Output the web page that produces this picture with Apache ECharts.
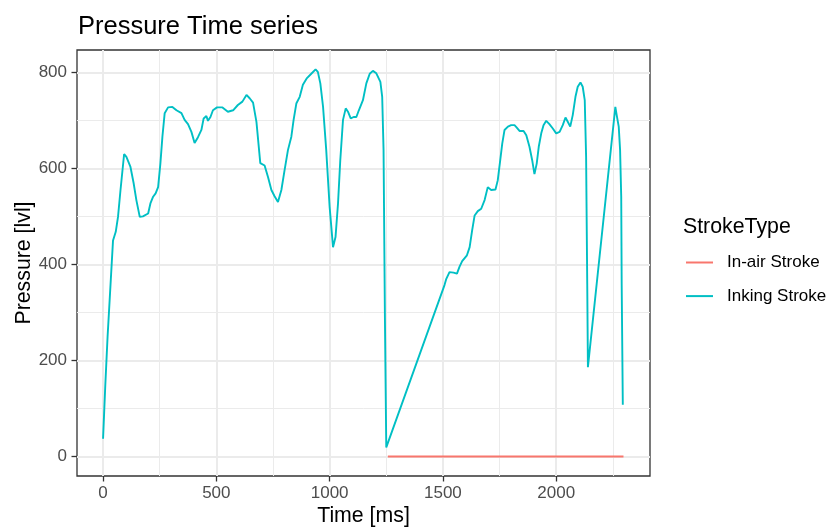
<!DOCTYPE html>
<html>
<head>
<meta charset="utf-8">
<script src="https://cdn.jsdelivr.net/npm/echarts@6/dist/echarts.min.js"></script>
<style>
  html, body { margin: 0; padding: 0; background: #ffffff; }
  #chart { width: 827px; height: 527px; }
</style>
</head>
<body>
<div id="chart"></div>
<script>
// Inking stroke: pen on paper, time [ms] and pressure level
const inkTime = [
  0, 10, 20, 29, 44, 56, 66, 77, 93, 103, 121, 135, 147, 162, 176, 199, 209, 221, 232, 243,
  253, 262, 272, 287, 306, 324, 346, 360, 375, 390, 404, 419, 434, 444, 456, 463, 474, 485,
  503, 527, 551, 574, 595, 615, 633, 647, 662, 677, 694, 713, 728, 743, 757, 772, 787, 801,
  816, 831, 841, 853, 868, 882, 900, 919, 938, 948, 959, 971, 985, 1000, 1015, 1026, 1037,
  1047, 1059, 1071, 1081, 1093, 1106, 1118, 1129, 1147, 1162, 1177, 1191, 1206, 1224, 1232,
  1238, 1244, 1250,
  1507, 1515, 1529, 1547, 1562, 1573, 1585, 1606, 1618, 1629, 1640, 1654, 1669, 1684, 1698,
  1713, 1732, 1742, 1753, 1762, 1772, 1787, 1801, 1816, 1826, 1838, 1856, 1868, 1882, 1894,
  1904, 1914, 1923, 1934, 1944, 1956, 1970, 1985, 2000, 2015, 2029, 2041, 2051, 2062, 2073,
  2085, 2095, 2107, 2117, 2126, 2132, 2137, 2140,
  2261, 2267, 2276, 2282, 2287, 2289, 2294
];
const inkPressure = [
  37, 150, 250, 325, 450, 468, 499, 555, 630, 624, 603, 569, 534, 499, 500, 506, 527, 541, 548, 561,
  610, 666, 715, 727, 728, 721, 715, 701, 692, 676, 653, 665, 680, 704, 709, 699, 707, 721,
  727, 727, 718, 721, 732, 739, 753, 746, 737, 697, 611, 606, 582, 555, 542, 530, 555, 596,
  638, 666, 701, 735, 749, 774, 788, 797, 806, 801, 777, 728, 638, 520, 436, 457, 527,
  617, 701, 725, 718, 704, 707, 707, 721, 742, 777, 797, 803, 798, 780, 749,
  638, 290, 19,
  357, 370, 384, 383, 381, 395, 407, 419, 436, 471, 502, 511, 516, 534, 561,
  555, 556, 575, 617, 652, 680, 687, 690, 690, 685, 678, 678, 669, 645, 617,
  588, 610, 645, 673, 690, 699, 692, 683, 673, 676, 690, 706, 697, 687, 711,
  749, 770, 779, 770, 742, 624, 360, 186,
  728, 711, 687, 638, 541, 360, 108
];

// In-air stroke: pen lifted, pressure stays at zero
const airTime = [1257, 2297];
const airPressure = [0, 0];

// Tick and grid positions
const xMajor = [0, 500, 1000, 1500, 2000];
const xMinor = [250, 750, 1250, 1750, 2250];
const yMajor = [0, 200, 400, 600, 800];
const yMinor = [100, 300, 500, 700];

const FONT = 'Liberation Sans, Arial, sans-serif';
const INK = '#00BFC4';
const AIR = '#F8766D';

const zip = (xs, ys) => xs.map((x, i) => [x, ys[i]]);

const gridLine = (values, key, width) => values.map(v => ({
  [key]: v,
  lineStyle: { color: '#EBEBEB', width: width, type: 'solid' }
}));

const plain = v => String(v);

const chart = echarts.init(document.getElementById('chart'), null, { renderer: 'canvas' });

chart.setOption({
  animation: false,
  backgroundColor: '#ffffff',
  textStyle: { fontFamily: FONT },
  title: [
    {
      text: 'Pressure Time series',
      left: 78,
      top: 14,
      padding: 0,
      textStyle: { fontFamily: FONT, fontSize: 25.5, fontWeight: 'normal', color: '#000000' }
    },
    {
      text: 'StrokeType',
      left: 683,
      top: 217,
      padding: 0,
      textStyle: { fontFamily: FONT, fontSize: 21.3, fontWeight: 'normal', color: '#000000' }
    }
  ],
  legend: {
    data: ['In-air Stroke', 'Inking Stroke'],
    orient: 'vertical',
    left: 686,
    top: 254,
    padding: 0,
    itemGap: 16.6,
    itemWidth: 27,
    itemHeight: 2,
    icon: 'rect',
    selectedMode: false,
    textStyle: {
      fontFamily: FONT,
      fontSize: 17,
      color: '#000000',
      padding: [0, 0, 0, 9]
    }
  },
  grid: {
    left: 77,
    top: 50,
    width: 573,
    height: 426,
    show: true,
    borderColor: '#333333',
    borderWidth: 1.3,
    backgroundColor: '#ffffff',
    containLabel: false,
    outerBoundsMode: 'none'
  },
  xAxis: {
    type: 'value',
    min: -115,
    max: 2414,
    name: 'Time [ms]',
    nameLocation: 'middle',
    nameGap: 30,
    nameMoveOverlap: false,
    nameTextStyle: { fontFamily: FONT, fontSize: 21.3, color: '#000000' },
    axisLine: { show: false, onZero: false },
    splitLine: { show: false },
    axisTick: {
      show: true,
      length: 5.5,
      customValues: xMajor,
      lineStyle: { color: '#333333', width: 1.3 }
    },
    axisLabel: {
      show: true,
      margin: 8.5,
      customValues: xMajor,
      formatter: plain,
      fontFamily: FONT,
      fontSize: 17,
      color: '#4D4D4D'
    }
  },
  yAxis: {
    type: 'value',
    min: -40.5,
    max: 846.5,
    name: 'Pressure [lvl]',
    nameLocation: 'middle',
    nameGap: 42,
    nameMoveOverlap: false,
    nameTextStyle: { fontFamily: FONT, fontSize: 21.3, color: '#000000' },
    axisLine: { show: false, onZero: false },
    splitLine: { show: false },
    axisTick: {
      show: true,
      length: 5.5,
      customValues: yMajor,
      lineStyle: { color: '#333333', width: 1.3 }
    },
    axisLabel: {
      show: true,
      margin: 10,
      customValues: yMajor,
      formatter: plain,
      fontFamily: FONT,
      fontSize: 17,
      color: '#4D4D4D'
    }
  },
  series: [
    {
      // background grid of the panel
      name: 'panel-grid',
      type: 'line',
      data: [],
      z: 1,
      silent: true,
      markLine: {
        z: 1,
        silent: true,
        symbol: ['none', 'none'],
        label: { show: false },
        animation: false,
        emphasis: { disabled: true },
        data: [
          ...gridLine(xMinor, 'xAxis', 1),
          ...gridLine(yMinor, 'yAxis', 1),
          ...gridLine(xMajor, 'xAxis', 2),
          ...gridLine(yMajor, 'yAxis', 2)
        ]
      }
    },
    {
      name: 'In-air Stroke',
      type: 'line',
      data: zip(airTime, airPressure),
      color: AIR,
      symbol: 'none',
      z: 3,
      lineStyle: { color: AIR, width: 2 }
    },
    {
      name: 'Inking Stroke',
      type: 'line',
      data: zip(inkTime, inkPressure),
      color: INK,
      symbol: 'none',
      z: 3,
      lineStyle: { color: INK, width: 1.9 }
    }
  ]
});
</script>
</body>
</html>
